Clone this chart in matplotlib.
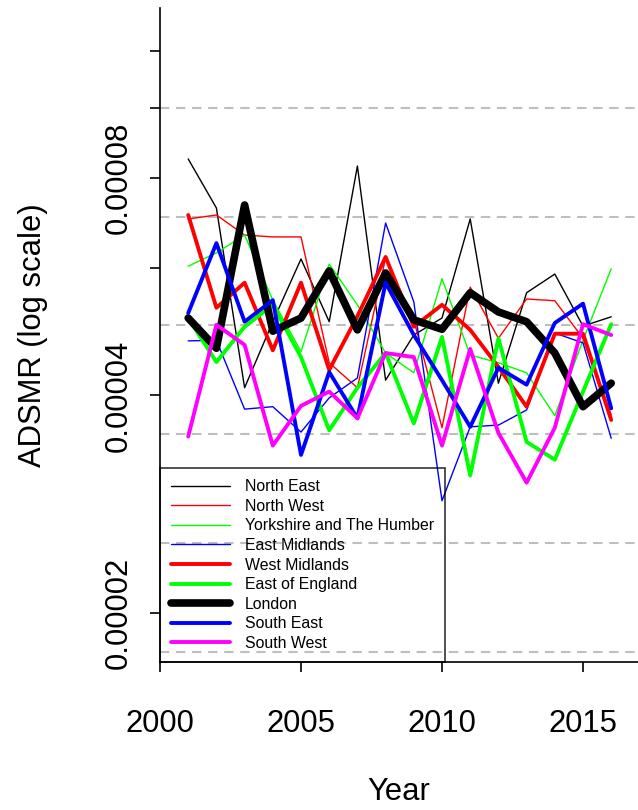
import matplotlib
matplotlib.use("Agg")
import matplotlib.pyplot as plt
from matplotlib.ticker import NullLocator

plt.rcParams['font.family'] = ['Liberation Sans', 'DejaVu Sans']

years = list(range(2001, 2017))

# ADSMR values (x 1e-5)
north_east = [8.50, 7.27, 4.10, 5.06, 6.18, 5.06, 8.31, 4.20, 4.85, 5.12, 7.02, 4.16, 5.55, 5.89, 4.99, 5.14]
north_west = [7.02, 7.11, 6.67, 6.63, 6.63, 4.44, 4.10, 6.20, 5.09, 3.61, 5.65, 4.80, 5.44, 5.41, 4.80, 3.76]
yorkshire = [6.04, 6.30, 6.67, 5.42, 4.60, 6.08, 5.34, 4.58, 4.30, 5.80, 4.55, 4.44, 4.30, 3.75, 4.77, 5.99]
east_midlands = [4.76, 4.77, 3.83, 3.86, 3.56, 3.97, 4.23, 6.93, 5.39, 2.86, 3.62, 3.64, 3.82, 4.88, 4.73, 3.49]
west_midlands = [7.11, 5.29, 5.73, 4.62, 5.73, 4.34, 5.15, 6.22, 4.98, 5.34, 4.93, 4.38, 3.86, 4.87, 4.87, 3.70]
east_england = [5.12, 4.45, 4.98, 5.34, 4.52, 3.58, 4.10, 4.58, 3.66, 4.82, 3.10, 4.80, 3.45, 3.26, 4.05, 5.02]
london = [5.12, 4.65, 7.34, 4.91, 5.12, 5.95, 4.93, 5.91, 5.09, 4.94, 5.55, 5.22, 5.06, 4.58, 3.86, 4.16]
south_east = [5.20, 6.50, 5.06, 5.42, 3.31, 4.31, 3.72, 5.73, 4.85, 4.20, 3.62, 4.37, 4.14, 5.04, 5.36, 3.84]
south_west = [3.51, 5.01, 4.70, 3.41, 3.87, 4.05, 3.72, 4.58, 4.52, 3.41, 4.64, 3.55, 3.03, 3.61, 5.02, 4.85]

regions = ["North East", "North West", "Yorkshire and The Humber", "East Midlands",
           "West Midlands", "East of England", "London", "South East", "South West"]
series = [north_east, north_west, yorkshire, east_midlands, west_midlands,
          east_england, london, south_east, south_west]
colours = ["black", "red", "#00FF00", "blue", "red", "#00FF00", "black", "blue", "magenta"]
widths = [1.0, 1.0, 1.0, 1.0, 2.8, 2.8, 5.5, 2.8, 2.8]

y_ticks = [2e-5, 4e-5, 6e-5, 8e-5, 1e-4, 1.2e-4]
y_tick_labels = ["0.00002", "0.00004", "", "0.00008", "", ""]
x_ticks = [2000, 2005, 2010, 2015]
grid_levels = [1e-4 / 2 ** (k / 2) for k in range(6)]

fig = plt.figure(figsize=(6.38, 8.10), dpi=100)
ax = fig.add_axes([160 / 638, 148 / 810, 478 / 638, 654 / 810])

for name, vals, col, lw in zip(regions, series, colours, widths):
    ax.plot(years, [v * 1e-5 for v in vals], color=col, lw=lw, label=name,
            solid_capstyle="round", solid_joinstyle="round")

for g in grid_levels:
    ax.axhline(g, color="#BEBEBE", lw=1.5, ls=(0, (4.5, 3.2)), zorder=0.5)

ax.set_yscale("log")
ax.set_ylim(1.711e-5, 1.375e-4)
ax.set_xlim(2000, 2016.95)
ax.yaxis.set_minor_locator(NullLocator())
ax.set_yticks(y_ticks)
ax.set_yticklabels(y_tick_labels, rotation=90, va="center", fontsize=22.3)
ax.set_xticks(x_ticks)
ax.set_xticklabels([str(x) for x in x_ticks], fontsize=22.3)
ax.tick_params(direction="out", length=7, width=1.2, pad=27)
ax.tick_params(axis="y", pad=12)

for side in ["top", "right"]:
    ax.spines[side].set_visible(False)
for side in ["left", "bottom"]:
    ax.spines[side].set_linewidth(1.2)

ax.set_xlabel("Year", fontsize=22.3, labelpad=27)
ax.set_ylabel("ADSMR (log scale)", fontsize=22.3, labelpad=40)

leg = ax.legend(loc="lower left", bbox_to_anchor=(0, 0), borderaxespad=0,
                fontsize=11.4, handlelength=3.7, handletextpad=0.95,
                labelspacing=0.29, borderpad=0.7, fancybox=False)
leg.get_frame().set_edgecolor("black")
leg.get_frame().set_facecolor("none")
leg.get_frame().set_linewidth(1.2)

fig.savefig("out.png", dpi=100)
